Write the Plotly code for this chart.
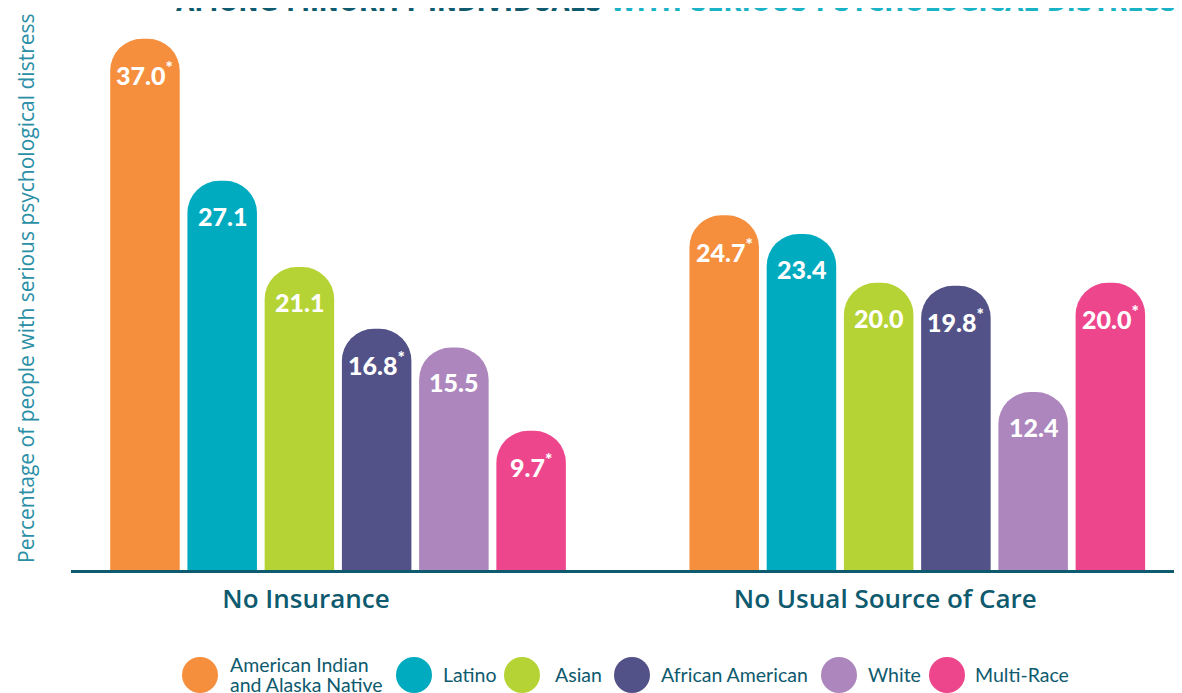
import plotly.graph_objects as go

categories = ["No Insurance", "No Usual Source of Care"]
races = ["American Indian and Alaska Native", "Latino", "Asian",
         "African American", "White", "Multi-Race"]
legend_labels = ["American Indian<br>and Alaska Native", "Latino", "Asian",
                 "African American", "White", "Multi-Race"]
aian = [37.0, 24.7]
latino = [27.1, 23.4]
asian = [21.1, 20.0]
african_american = [16.8, 19.8]
white = [15.5, 12.4]
multi_race = [9.7, 20.0]
significant = [[True, True], [False, False], [False, False],
               [True, True], [False, False], [True, True]]
series = [aian, latino, asian, african_american, white, multi_race]
colors = ["#F58F3E", "#00AABF", "#B5D334", "#525288", "#AC86BD", "#EE468C"]
y_title = "Percentage of people with serious psychological distress"

DARK = "#0E5A6E"
TEAL = "#1AB3C6"
BARGAP = 0.2

# the page has an 8px body margin; work in page pixels and convert
OFF = 8
W, H = 1182 - OFF, 693 - OFF
plot_left, plot_right, plot_top, plot_bottom = 71, 1182, 10, 570  # page pixels
L = plot_left - OFF
R = 1182 - plot_right
T = plot_top - OFF
B = (H + OFF) - plot_bottom
pw, ph = plot_right - plot_left, plot_bottom - plot_top

def px_x(p):
    return (p - plot_left) / pw

def px_y(p):
    return (plot_bottom - p) / ph

fig = go.Figure()
for name, vals, col in zip(races, series, colors):
    fig.add_trace(go.Bar(
        x=categories, y=vals, name=name,
        marker=dict(color=col, cornerradius=32, line=dict(width=0)),
        showlegend=False, hoverinfo="x+y+name",
    ))

annotations = []
n = len(series)
pitch = (1 - BARGAP) / n
for k, (vals, sig) in enumerate(zip(series, significant)):
    for gi, (v, s) in enumerate(zip(vals, sig)):
        txt = f"{v:.1f}" + ("<sup>*</sup>" if s else "")
        annotations.append(dict(
            x=gi + (k - (n - 1) / 2) * pitch, y=v, xref="x", yref="y",
            text=txt, showarrow=False, yshift=-35, yanchor="middle",
            font=dict(family="Lato", size=25, color="white", weight=900),
        ))

# custom legend with large circles
circle_cx = [200, 414, 522, 632, 839, 947]
text_x = [228, 441, 553, 659, 866, 973]
legend_y = 675
line_gap = 20
shapes = []
for cx, tx, lab, col in zip(circle_cx, text_x, legend_labels, colors):
    shapes.append(dict(type="circle", xref="paper", yref="paper",
                       xsizemode="pixel", ysizemode="pixel",
                       xanchor=px_x(cx), yanchor=px_y(legend_y),
                       x0=-18, x1=18, y0=-18, y1=18,
                       fillcolor=col, line=dict(width=0)))
    lines = lab.split("<br>")
    first = legend_y - (len(lines) - 1) * line_gap / 2 - 1
    for j, ln in enumerate(lines):
        annotations.append(dict(x=px_x(tx), y=px_y(first + j * line_gap),
                                xref="paper", yref="paper",
                                text=ln, showarrow=False, xanchor="left", yanchor="middle",
                                align="left",
                                font=dict(family="Lato", size=19.5, color=DARK)))

# y axis title
annotations.append(dict(
    x=px_x(26), y=px_y(288), xref="paper", yref="paper", textangle=-90,
    xanchor="center", yanchor="middle", showarrow=False, text=y_title,
    font=dict(family="Open Sans", size=21, color="#2A8FA5"),
))

# title (cut at the top edge as in the source)
annotations.append(dict(
    x=px_x(676), y=px_y(1), xref="paper", yref="paper",
    xanchor="center", yanchor="middle", showarrow=False,
    text=f"<b><span style='color:{DARK}'>AMONG MINORITY INDIVIDUALS</span> "
         f"<span style='color:{TEAL}'>WITH SERIOUS PSYCHOLOGICAL DISTRESS</span></b>",
    font=dict(family="Liberation Sans Narrow, DejaVu Sans Condensed", size=26.5),
))

fig.update_layout(
    width=W, height=H,
    margin=dict(l=L, r=R, t=T, b=B),
    paper_bgcolor="white", plot_bgcolor="white",
    barmode="group", bargap=BARGAP, bargroupgap=0.1,
    xaxis=dict(range=[-0.461, 1.457], showline=True, linecolor=DARK, linewidth=3,
               ticks="", showgrid=False, zeroline=False,
               tickfont=dict(family="Open Sans", size=26, color=DARK, weight=600),
               ticklabelstandoff=4, ticklabelshift=-32),
    yaxis=dict(range=[0, 39], showticklabels=False, showgrid=False, zeroline=False,
               ticks="", showline=False),
    annotations=annotations, shapes=shapes,
    font=dict(family="Lato"),
)

fig.write_html("out.html")
